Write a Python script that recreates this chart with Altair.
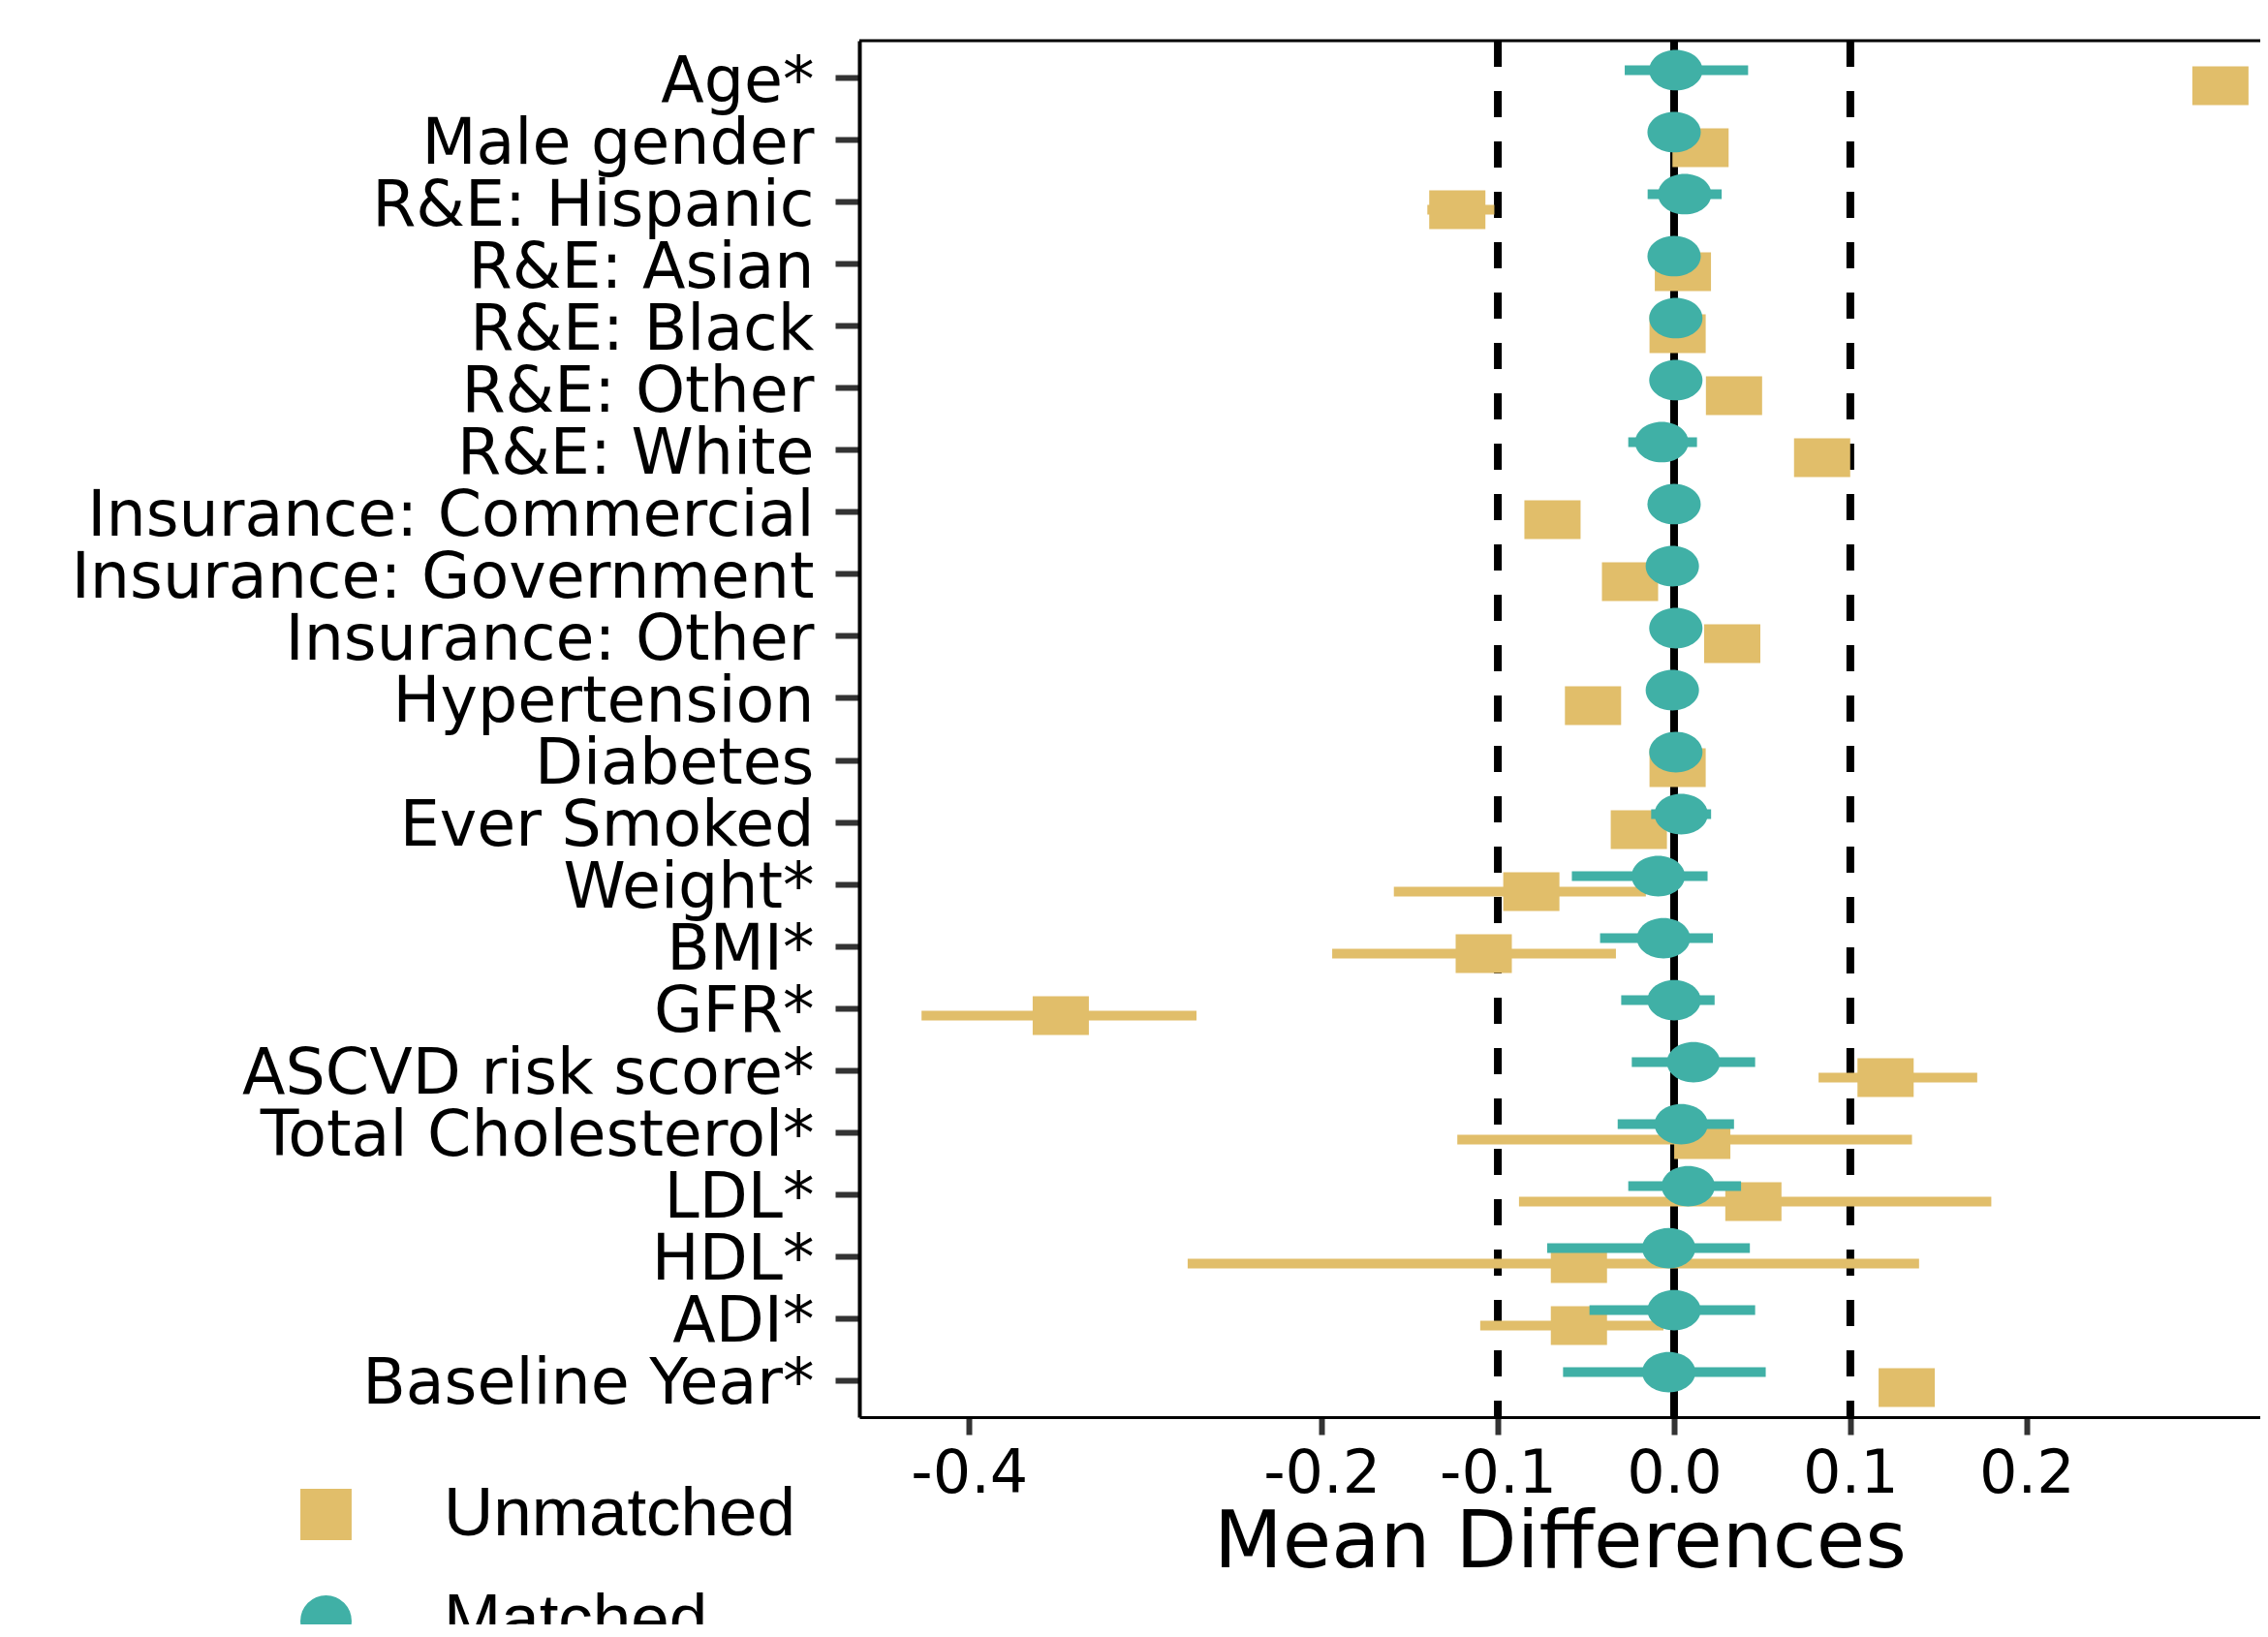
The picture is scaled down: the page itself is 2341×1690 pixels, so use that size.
import altair as alt
import pandas as pd

categories = ["Age*", "Male gender", "R&E: Hispanic", "R&E: Asian", "R&E: Black",
              "R&E: Other", "R&E: White", "Insurance: Commercial", "Insurance: Government",
              "Insurance: Other", "Hypertension", "Diabetes", "Ever Smoked", "Weight*",
              "BMI*", "GFR*", "ASCVD risk score*", "Total Cholesterol*", "LDL*", "HDL*",
              "ADI*", "Baseline Year*"]

unmatched_mean = [0.310, 0.015, -0.123, 0.005, 0.002, 0.034, 0.084, -0.069, -0.025, 0.033,
                  -0.046, 0.002, -0.020, -0.081, -0.108, -0.348, 0.120, 0.016, 0.045,
                  -0.054, -0.054, 0.132]
unmatched_lo = [0.300, 0.006, -0.140, -0.004, -0.007, 0.025, 0.073, -0.078, -0.034, 0.024,
                -0.055, -0.007, -0.029, -0.159, -0.194, -0.427, 0.082, -0.123, -0.088,
                -0.276, -0.110, 0.123]
unmatched_hi = [0.320, 0.024, -0.102, 0.014, 0.011, 0.043, 0.095, -0.060, -0.016, 0.042,
                -0.037, 0.011, -0.011, -0.016, -0.033, -0.271, 0.172, 0.135, 0.180,
                0.139, -0.006, 0.141]

matched_mean = [0.001, 0.000, 0.006, 0.000, 0.001, 0.001, -0.007, 0.000, -0.001, 0.001,
                -0.001, 0.001, 0.004, -0.009, -0.006, 0.000, 0.011, 0.004, 0.008, -0.003,
                0.000, -0.003]
matched_lo = [-0.028, -0.008, -0.015, -0.008, -0.008, -0.008, -0.026, -0.008, -0.009, -0.008,
              -0.009, -0.008, -0.013, -0.058, -0.042, -0.030, -0.024, -0.032, -0.026,
              -0.072, -0.048, -0.063]
matched_hi = [0.042, 0.008, 0.027, 0.008, 0.009, 0.010, 0.013, 0.008, 0.008, 0.010,
              0.008, 0.010, 0.021, 0.019, 0.022, 0.023, 0.046, 0.034, 0.038, 0.043,
              0.046, 0.052]

x_ticks = [-0.4, -0.2, -0.1, 0.0, 0.1, 0.2]
dashed_refs = [-0.1, 0.1]
solid_refs = [0.0]
groups = ["Unmatched", "Matched"]

GOLD = "#E1BE6A"
TEAL = "#40B0A6"
W, H = 1446, 1421

unmatched = pd.DataFrame({"var": categories, "mean": unmatched_mean,
                          "lo": unmatched_lo, "hi": unmatched_hi, "group": "Unmatched"})
matched = pd.DataFrame({"var": categories, "mean": matched_mean,
                        "lo": matched_lo, "hi": matched_hi, "group": "Matched"})
both = pd.concat([unmatched, matched], ignore_index=True)

x_scale = alt.Scale(domain=[-0.4623, 0.3326], nice=False, zero=False)
y_scale = alt.Scale(type="point", padding=0.6)

x_axis = alt.Axis(values=x_ticks,
                  labelExpr="replace(format(datum.value, '.1f'), '\u2212', '-')",
                  title="Mean Differences", titleFont="DejaVu Sans", titleFontSize=82,
                  titleFontWeight="normal", titleColor="black", titleBaseline="alphabetic",
                  titleY=154,
                  labelFont="DejaVu Sans", labelFontSize=62, labelColor="black",
                  labelPadding=10, labelFlush=False, labelOverlap=False,
                  tickSize=18, tickWidth=6, tickColor="#333333",
                  domainColor="black", domainWidth=3, grid=False)
y_axis = alt.Axis(title="", labelFont="DejaVu Sans", labelFontSize=65, labelColor="black",
                  labelPadding=22, labelOffset=4, labelLimit=2000,
                  tickSize=25, tickWidth=6, tickColor="#333333",
                  domainColor="black", domainWidth=4, grid=False)

Y = alt.Y("var:N", sort=categories, scale=y_scale, axis=y_axis)


def X(field):
    return alt.X(field, type="quantitative", scale=x_scale, axis=x_axis)


dashed = alt.Chart(pd.DataFrame({"v": dashed_refs})).mark_rule(
    color="black", strokeWidth=8, strokeDash=[27, 25]
).encode(x=X("v"), y=alt.value(0), y2=alt.value(H))

solid = alt.Chart(pd.DataFrame({"v": solid_refs})).mark_rule(
    color="black", strokeWidth=8
).encode(x=X("v"), y=alt.value(0), y2=alt.value(H))

top_border = alt.Chart(pd.DataFrame({"v": [0]})).mark_rule(
    color="black", strokeWidth=3
).encode(x=alt.value(0), x2=alt.value(W), y=alt.value(0))

gold_bars = alt.Chart(unmatched).mark_rule(color=GOLD, strokeWidth=10, yOffset=8).encode(
    x=X("lo"), x2="hi", y=Y)
gold_pts = alt.Chart(unmatched).mark_point(
    shape="M-1,-0.69L1,-0.69L1,0.69L-1,0.69Z", size=3364, filled=True, opacity=1,
    color=GOLD, yOffset=8).encode(x=X("mean"), y=Y)

teal_bars = alt.Chart(matched).mark_rule(color=TEAL, strokeWidth=10, yOffset=-8).encode(
    x=X("lo"), x2="hi", y=Y)
teal_pts = alt.Chart(matched).mark_point(
    shape="M-1,0A1,0.76,0,1,0,1,0A1,0.76,0,1,0,-1,0Z", size=3025, filled=True, opacity=1,
    color=TEAL, yOffset=-8).encode(x=X("mean"), y=Y)

# legend only: no rows drawn, entries come from the explicit scale domain
legend_layer = alt.Chart(both).transform_filter("datum.mean > 100").mark_point(
    filled=True, opacity=1).encode(
    x=X("mean"), y=Y,
    color=alt.Color("group:N", scale=alt.Scale(domain=groups, range=[GOLD, TEAL]),
                    legend=alt.Legend(title=None, orient="none", legendX=-586, legendY=1486,
                                      padding=0, symbolSize=2800, symbolOpacity=1,
                                      symbolStrokeWidth=0, labelLimit=1000,
                                      labelFont="Liberation Sans", labelFontSize=71,
                                      labelColor="black", labelOffset=86, rowPadding=38)),
    shape=alt.Shape("group:N", scale=alt.Scale(domain=groups, range=["square", "circle"])),
)

chart = alt.layer(
    dashed, solid, top_border, gold_bars, gold_pts, teal_bars, teal_pts, legend_layer
).properties(
    width=W, height=H,
    autosize=alt.AutoSizeParams(type="none"),
    padding={"left": 879, "top": 34, "right": 0, "bottom": 214},
    background="white",
).configure_view(strokeWidth=0)

chart.save("out.html", embed_options={"renderer": "svg", "actions": False})
